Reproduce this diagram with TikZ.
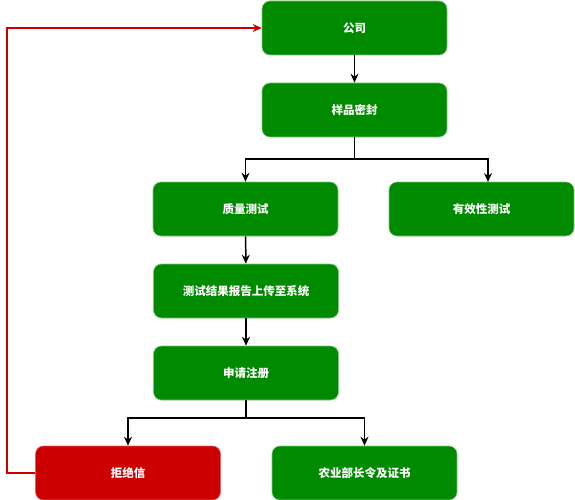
\documentclass[tikz,border=0pt]{standalone}
\usepackage{fontspec}
\newfontfamily\cjk{Noto Sans CJK SC}
\usetikzlibrary{arrows.meta,calc}
\definecolor{boxgreen}{HTML}{008A00}
\definecolor{boxgreenline}{HTML}{7FC47F}
\definecolor{boxred}{HTML}{CC0000}
\definecolor{boxredline}{HTML}{E06666}
\definecolor{linered}{HTML}{CC0000}
\tikzset{
  gbox/.style={rectangle, rounded corners=8pt, fill=boxgreen, draw=boxgreenline, line width=0.6pt,
    minimum width=185pt, minimum height=54pt, inner sep=0pt, text=white,
    font=\cjk\bfseries\fontsize{11.5}{14}\selectfont},
  rbox/.style={gbox, fill=boxred, draw=boxredline},
  arr/.style={line width=1.5pt, draw=black, -{Stealth[length=9pt,width=8pt,inset=3pt]}},
  ln/.style={line width=1.5pt, draw=black},
  rarr/.style={line width=1.5pt, draw=linered, -{Stealth[length=9pt,width=8pt,inset=3pt]}}
}
\begin{document}
\begin{tikzpicture}[x=1pt,y=-1pt]
\useasboundingbox (0,0) rectangle (575,500);
\node[gbox] (gs) at (354.5,28) {公司};
\node[gbox] (yp) at (354.5,110) {样品密封};
\node[gbox] (zl) at (245.5,209) {质量测试};
\node[gbox] (yx) at (481.5,209) {有效性测试};
\node[gbox] (cs) at (246,291) {测试结果报告上传至系统};
\node[gbox] (sq) at (246,373) {申请注册};
\node[rbox] (jj) at (128,473) {拒绝信};
\node[gbox] (ny) at (364.5,473) {农业部长令及证书};
\coordinate (b1) at (354.5,159);
\coordinate (yxin) at (488,182);
\coordinate (b2) at (246,418);
\coordinate (rl) at (7,473);
\coordinate (rt) at (7,28);
\draw[arr] (gs) -- (yp);
\draw[ln] (yp.south) -- (b1);
\draw[arr] (b1) -| (zl.north);
\draw[arr] (b1) -| (yxin);
\draw[arr] (zl) -- (cs);
\draw[arr] (cs) -- (sq);
\draw[ln] (sq.south) -- (b2);
\draw[arr] (b2) -| (jj.north);
\draw[arr] (b2) -| (ny.north);
\draw[rarr] (jj.west) -- (rl) -- (rt) -- (gs.west);
\end{tikzpicture}
\end{document}
